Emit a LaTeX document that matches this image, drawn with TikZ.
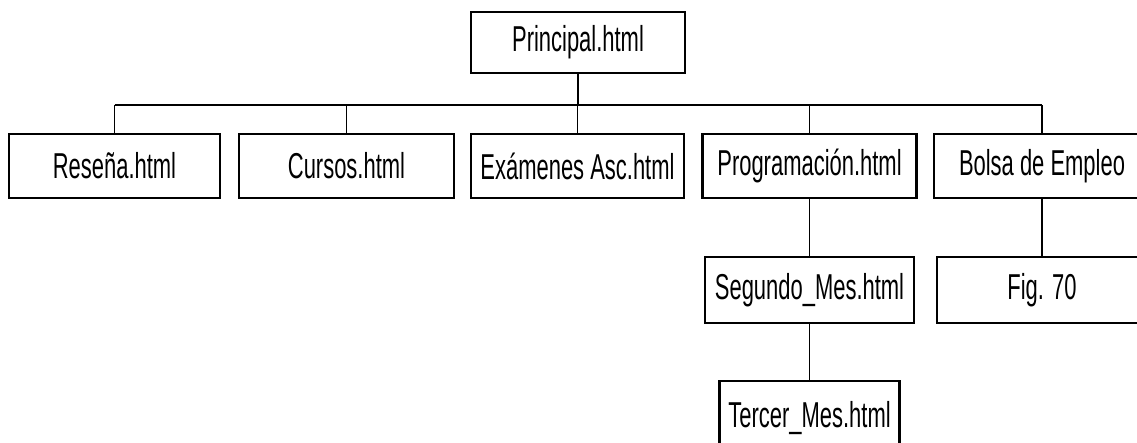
\documentclass[tikz,border=0pt]{standalone}
\usepackage{fontspec}
\setmainfont{Liberation Sans}[FakeStretch=0.61]
\begin{document}
\begin{tikzpicture}[x=1pt,y=-1pt,
  pagebox/.style={draw=black, line width=2.2pt, rectangle, inner sep=0pt,
    minimum height=#1, font=\fontsize{36}{40}\selectfont},
  pagebox/.default=64pt,
  stub/.style={draw=black, line width=1.1pt},
  busline/.style={draw=black, line width=2pt}]
\useasboundingbox (0,0) rectangle (1137,442);
\clip (0,0) rectangle (1137,442);
\node[pagebox=61pt, minimum width=214pt] (P) at (578,42.5) {Principal.html};
\node[pagebox, minimum width=211pt] (R) at (114.5,166) {Reseña.html};
\node[pagebox, minimum width=215pt] (C) at (346.5,166) {Cursos.html};
\node[pagebox, minimum width=213pt] (E) at (577.5,166) {Exámenes Asc.html};
\node[pagebox, minimum width=214pt] (G) at (809.5,166) {Programación.html};
\node[pagebox, minimum width=216pt] (B) at (1042,166) {Bolsa de Empleo};
\node[pagebox=66pt, minimum width=209pt] (S) at (809.5,290) {Segundo\_Mes.html};
\node[pagebox=66pt, minimum width=210pt] (F) at (1042,290) {Fig. 70};
\node[pagebox=74pt, minimum width=180pt] (T) at (809.5,418) {Tercer\_Mes.html};
\coordinate (busy) at (0,105);
\draw[busline] (R.north |- busy) -- (B.north |- busy);
\draw[stub] (P.south) -- (P.south |- busy);
\foreach \n in {R,C,E,G,B} \draw[stub] (\n.north) -- (\n.north |- busy);
\draw[stub] (G.south) -- (S.north);
\draw[stub] (S.south) -- (T.north);
\draw[stub] (B.south) -- (F.north);
\end{tikzpicture}
\end{document}
